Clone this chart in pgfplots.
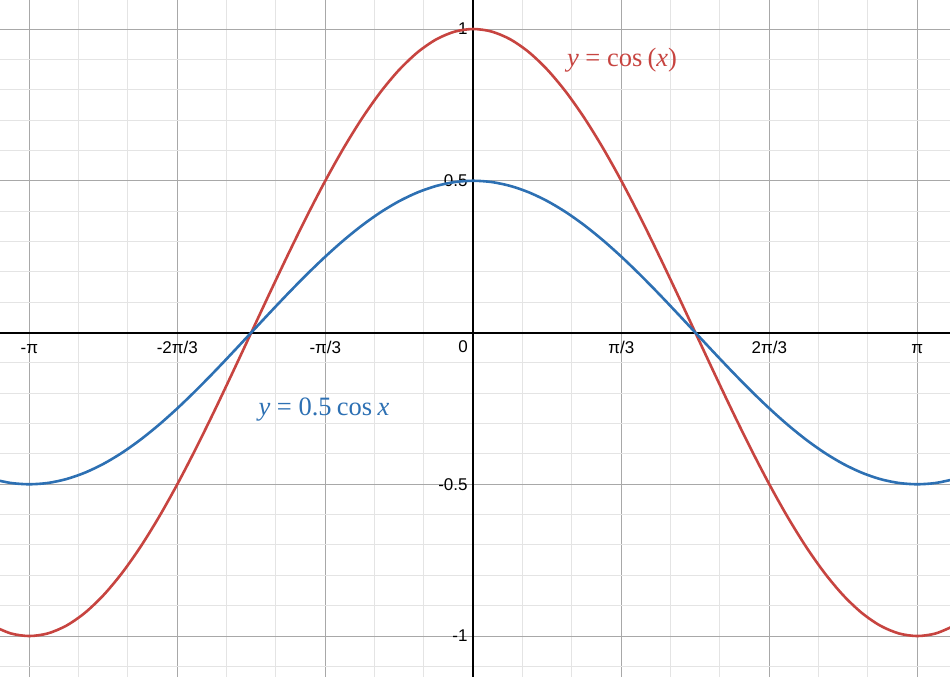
\documentclass[border=0pt]{standalone}
\usepackage{fontspec}
\setmainfont{Liberation Sans}
\newfontfamily\lab{Liberation Serif}
\usepackage{pgfplots}
\usepackage{pgfplotstable}
\pgfplotsset{compat=1.18}

\definecolor{dred}{RGB}{199,68,64}
\definecolor{dblue}{RGB}{45,112,179}
\definecolor{majgrid}{RGB}{168,168,168}
\definecolor{mingrid}{RGB}{228,228,228}

% x in units of pi/3, c = cos x, h = 0.5 cos x
\pgfplotstableread{
x c h
-3.25 -0.96593 -0.48296
-3.125 -0.99144 -0.49572
-3 -1 -0.5
-2.875 -0.99144 -0.49572
-2.75 -0.96593 -0.48296
-2.625 -0.92388 -0.46194
-2.5 -0.86603 -0.43301
-2.375 -0.79335 -0.39668
-2.25 -0.70711 -0.35355
-2.125 -0.60876 -0.30438
-2 -0.5 -0.25
-1.875 -0.38268 -0.19134
-1.75 -0.25882 -0.12941
-1.625 -0.13053 -0.06526
-1.5 0 0
-1.375 0.13053 0.06526
-1.25 0.25882 0.12941
-1.125 0.38268 0.19134
-1 0.5 0.25
-0.875 0.60876 0.30438
-0.75 0.70711 0.35355
-0.625 0.79335 0.39668
-0.5 0.86603 0.43301
-0.375 0.92388 0.46194
-0.25 0.96593 0.48296
-0.125 0.99144 0.49572
0 1 0.5
0.125 0.99144 0.49572
0.25 0.96593 0.48296
0.375 0.92388 0.46194
0.5 0.86603 0.43301
0.625 0.79335 0.39668
0.75 0.70711 0.35355
0.875 0.60876 0.30438
1 0.5 0.25
1.125 0.38268 0.19134
1.25 0.25882 0.12941
1.375 0.13053 0.06526
1.5 0 0
1.625 -0.13053 -0.06526
1.75 -0.25882 -0.12941
1.875 -0.38268 -0.19134
2 -0.5 -0.25
2.125 -0.60876 -0.30438
2.25 -0.70711 -0.35355
2.375 -0.79335 -0.39668
2.5 -0.86603 -0.43301
2.625 -0.92388 -0.46194
2.75 -0.96593 -0.48296
2.875 -0.99144 -0.49572
3 -1 -0.5
3.125 -0.99144 -0.49572
3.25 -0.96593 -0.48296
}\cosdata

\begin{document}
\begin{tikzpicture}
\begin{axis}[
    scale only axis,
    width=950pt, height=677pt,
    xmin=-3.198, xmax=3.221,
    ymin=-1.135, ymax=1.0956,
    axis lines=middle,
    axis line style={-, black, line width=2pt},
    xtick={-3,-2,-1,0,1,2,3},
    xticklabels={-π,-2π/3,-π/3,,π/3,2π/3,π},
    ytick={-1,-0.5,0,0.5,1},
    yticklabels={-1,-0.5,,0.5,1},
    minor xtick={-2.6667,-2.3333,-1.6667,-1.3333,-0.6667,-0.3333,0.3333,0.6667,1.3333,1.6667,2.3333,2.6667},
    minor ytick={-1.1,-0.9,-0.8,-0.7,-0.6,-0.4,-0.3,-0.2,-0.1,0.1,0.2,0.3,0.4,0.6,0.7,0.8,0.9},
    major tick length=0pt, minor tick length=0pt,
    grid=both,
    major grid style={majgrid, line width=1pt},
    minor grid style={mingrid, line width=1pt},
    hide obscured x ticks=false,
    hide obscured y ticks=false,
    /pgf/number format/assume math mode=true,
    tick label style={font=\fontsize{17}{20}\selectfont, inner sep=0pt},
    xticklabel style={anchor=base, yshift=-21pt},
    yticklabel style={anchor=east, xshift=-5.5pt},
]
\addplot[dred, line width=2.6pt, smooth] table[x=x, y=c] {\cosdata};
\addplot[dblue, line width=2.6pt, smooth] table[x=x, y=h] {\cosdata};

\node[anchor=north east, inner sep=0pt, font=\fontsize{17}{20}\selectfont] at (axis cs:-0.036,-0.027) {0};
\node[dred, font=\lab\fontsize{26.5}{30}\selectfont] at (axis cs:1.005,0.898)
    {\textit{y}\hspace{0.25em}=\hspace{0.25em}cos\hspace{0.2em}(\textit{x})};
\node[dblue, font=\lab\fontsize{26.5}{30}\selectfont] at (axis cs:-1.009,-0.255)
    {\textit{y}\hspace{0.25em}=\hspace{0.25em}0.5\hspace{0.2em}cos\hspace{0.2em}\textit{x}};

\coordinate (sw) at (rel axis cs:0,0);
\coordinate (ne) at (rel axis cs:1,1);
\end{axis}
\pgfresetboundingbox
\path (sw) rectangle (ne);
\end{tikzpicture}
\end{document}
